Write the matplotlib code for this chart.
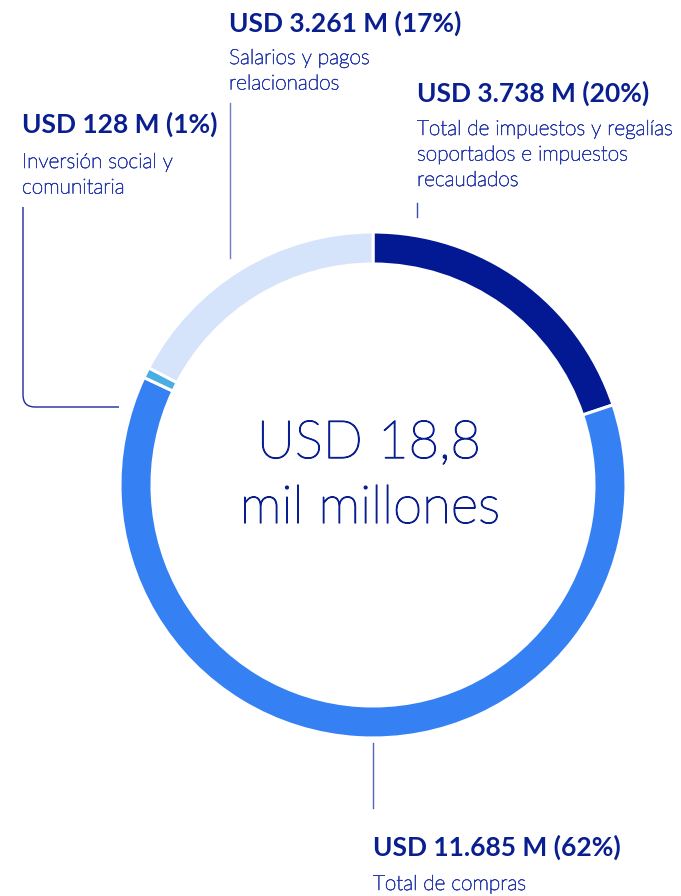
import matplotlib
matplotlib.use("Agg")
import matplotlib.pyplot as plt
from matplotlib.path import Path
from matplotlib.patches import PathPatch
import matplotlib.patheffects as pe

# Data
categories = ["Total de impuestos y regalías soportados e impuestos recaudados",
              "Total de compras",
              "Inversión social y comunitaria",
              "Salarios y pagos relacionados"]
values = [3738, 11685, 128, 3261]
headers = ["USD 3.738 M (20%)", "USD 11.685 M (62%)", "USD 128 M (1%)", "USD 3.261 M (17%)"]
bodies = [["Total de impuestos y regalías", "soportados e impuestos", "recaudados"],
          ["Total de compras"],
          ["Inversión social y", "comunitaria"],
          ["Salarios y pagos", "relacionados"]]
center_lines = ["USD 18,8", "mil millones"]
colors = ["#031893", "#3581F3", "#4AAEE2", "#D5E3FB"]

NAVY = "#0A1F8F"
BODY = "#2A3CAC"
FONT = "Lato"

W, H = 681, 896
fig = plt.figure(figsize=(W / 100, H / 100), dpi=100)
ax = fig.add_axes([0, 0, 1, 1])

cx, cy, R, ring = 373, 485, 253, 32
ax.pie(values, colors=colors, startangle=-90, counterclock=True,
       center=(cx, cy), radius=R,
       wedgeprops=dict(width=ring, edgecolor="white", linewidth=2.2))
ax.set_xlim(0, W)
ax.set_ylim(H, 0)
ax.set_aspect("auto")
ax.axis("off")

# Center text (light weight, slightly thickened)
center_fx = [pe.withStroke(linewidth=0.9, foreground=NAVY)]
ax.text(cx - 4, 458, center_lines[0], ha="center", va="baseline", fontsize=38,
        color=NAVY, family=FONT, fontweight="light", path_effects=center_fx)
ax.text(cx - 3, 523, center_lines[1], ha="center", va="baseline", fontsize=38,
        color=NAVY, family=FONT, fontweight="light", path_effects=center_fx)

# Labels: (x, header baseline, body first baseline)
body_fx = [pe.withStroke(linewidth=0.5, foreground=BODY)]
label_pos = [(417, 102, 135), (373, 856, 890), (22, 133, 168), (229, 32, 64)]
for (x, hb, bb), hdr, body in zip(label_pos, headers, bodies):
    ax.text(x, hb, hdr, ha="left", va="baseline", fontsize=19, color=NAVY,
            family=FONT, fontweight="bold")
    for i, line in enumerate(body):
        ax.text(x, bb + i * 25.5, line, ha="left", va="baseline", fontsize=15,
                color=BODY, family=FONT, fontweight="light", path_effects=body_fx)

# Leader lines
ax.plot([417, 417], [203, 217], color="#3A4AA8", lw=1.0)
ax.plot([373, 373], [743, 808], color="#5563B8", lw=1.0)
ax.plot([230, 230], [103, 258], color="#6E7CC4", lw=1.0)
p = Path([(23, 207), (23, 395), (23, 407), (35, 407), (119, 407)],
         [Path.MOVETO, Path.LINETO, Path.CURVE3, Path.CURVE3, Path.LINETO])
ax.add_patch(PathPatch(p, fill=False, edgecolor="#1A2A9A", lw=1.0))

fig.savefig("out.png", dpi=100)
